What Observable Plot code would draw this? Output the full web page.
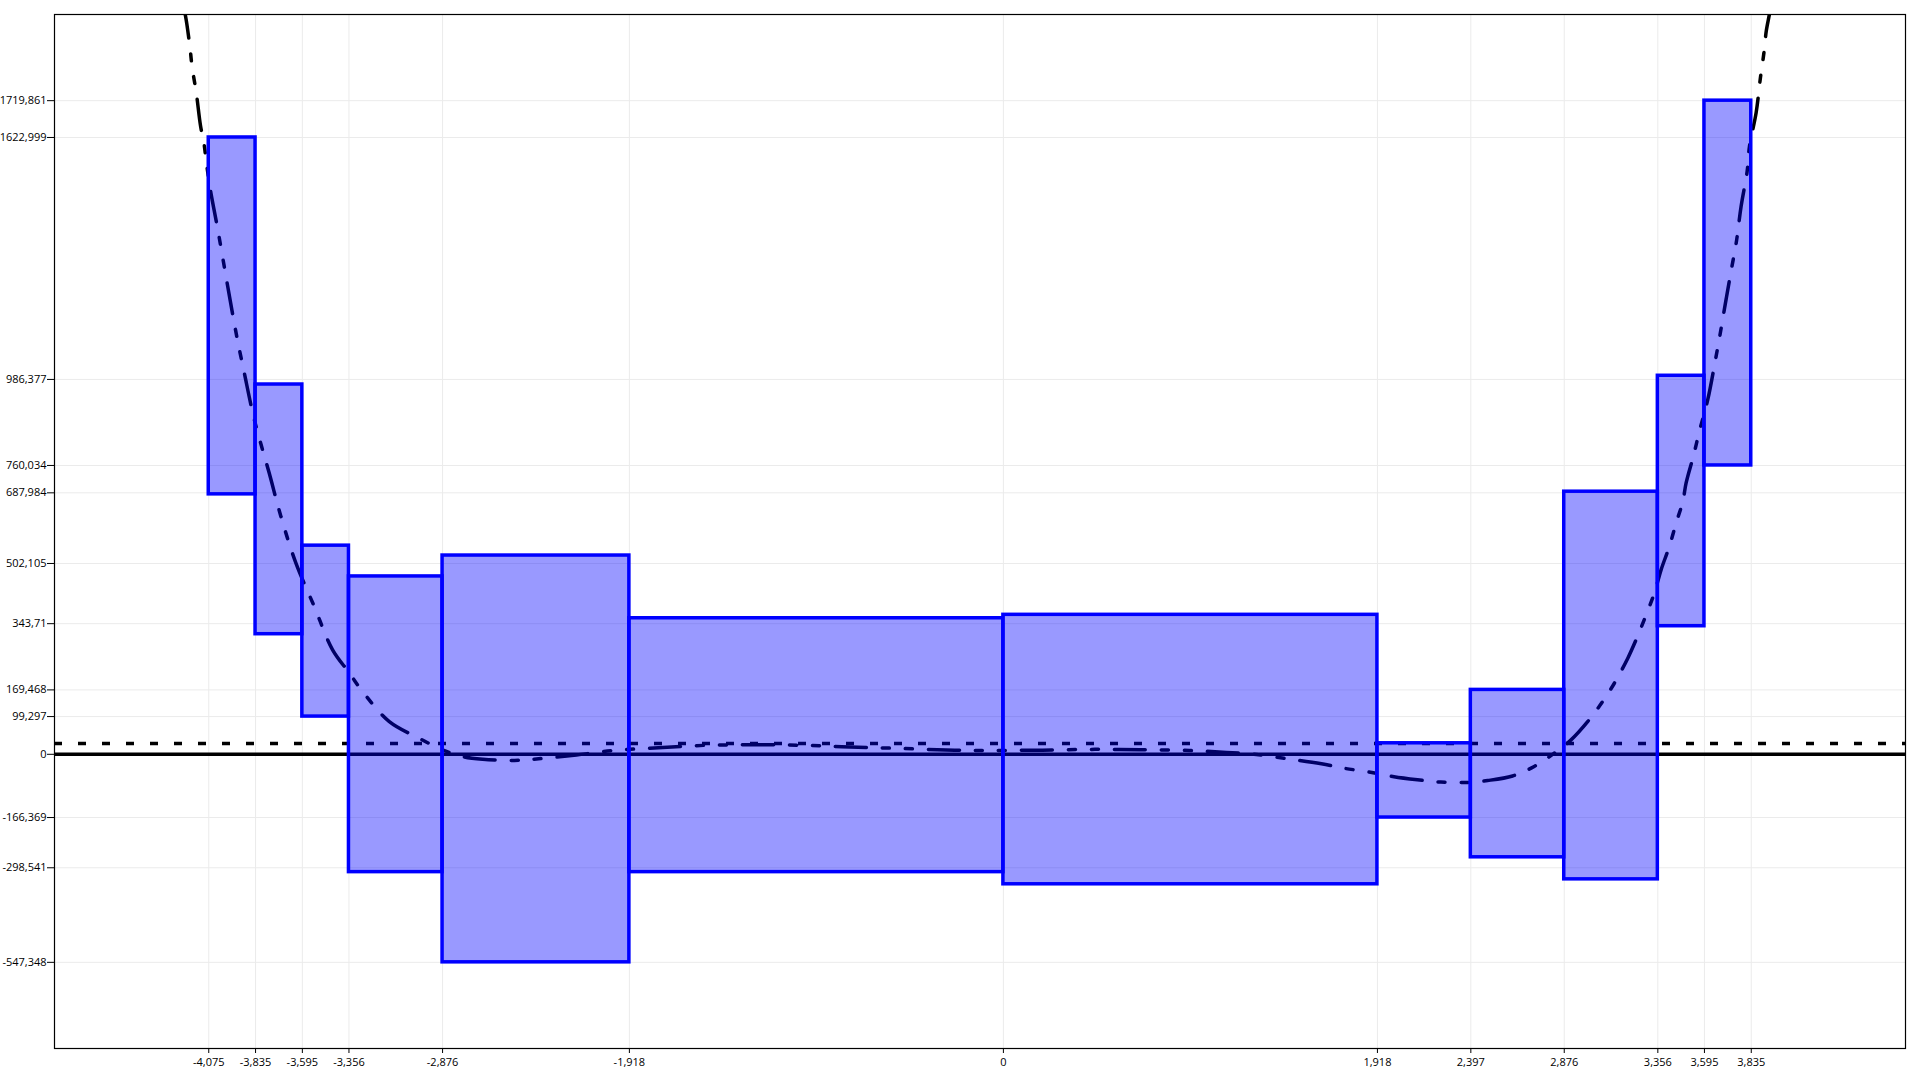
<!DOCTYPE html>
<html>
<head>
<meta charset="utf-8">
<script src="https://cdn.jsdelivr.net/npm/d3@7"></script>
<script src="https://cdn.jsdelivr.net/npm/@observablehq/plot@0.6"></script>
<style>
  html, body { margin: 0; padding: 0; background: white; }
  #chart svg { display: block; }
</style>
</head>
<body>
<div id="chart"></div>
<script>
// Bin edges (also the x tick values)
const binEdges = [-4.075, -3.835, -3.595, -3.356, -2.876, -1.918, 0, 1.918, 2.397, 2.876, 3.356, 3.595, 3.835];
// Bar tops and bottoms, one per bin
const barTop    = [1622.999, 973, 549, 468, 523, 358, 367, 29, 169.468, 691, 996, 1719.861];
const barBottom = [684, 316, 99.297, -310, -547.348, -310, -342, -166.369, -271, -329, 337, 760.034];

// Tick values
const xTicks = [-4.075, -3.835, -3.595, -3.356, -2.876, -1.918, 0, 1.918, 2.397, 2.876, 3.356, 3.595, 3.835];
const yTicks = [1719.861, 1622.999, 986.377, 760.034, 687.984, 502.105, 343.71, 169.468, 99.297, 0, -166.369, -298.541, -547.348];

// Dashed reference level
const refLevel = 28.7;

// Fitted curve
const curveX = [-4.205, -4.194, -4.172, -4.16, -4.139, -4.117, -4.1, -4.087, -4.067, -4.032, -3.936, -3.893, -3.84, -3.765, -3.705, -3.628, -3.534, -3.44, -3.354, -3.286, -3.149, -2.995, -2.883, -2.772, -2.67, -2.507, -2.413, -2.302, -2.19, -2.002, -1.814, -1.506, -1.043, -0.829, -0.564, -0.25, -0.068, 0.2, 0.47, 0.7, 0.954, 1.144, 1.267, 1.447, 1.631, 1.75, 1.858, 1.935, 2.003, 2.123, 2.243, 2.38, 2.483, 2.611, 2.722, 2.825, 2.911, 2.996, 3.073, 3.133, 3.202, 3.244, 3.296, 3.338, 3.373, 3.415, 3.45, 3.484, 3.501, 3.54, 3.569, 3.612, 3.65, 3.672, 3.706, 3.736, 3.758, 3.783, 3.814, 3.826, 3.86, 3.882, 3.9, 3.912, 3.928, 3.935];
const curveY = [1965, 1942, 1863, 1807, 1741, 1653, 1609, 1557, 1486, 1390, 1112, 1004, 878, 740, 626, 503, 389, 275, 214, 165, 86, 42, 13, -6, -13, -16, -13, -8, -2, 10, 16, 24, 24, 20, 16, 11, 10, 11, 13, 12, 10, 5, 1, -11, -25, -37, -45, -52, -59, -67, -73, -74, -69, -57, -32, 3, 38, 86, 139, 187, 253, 301, 367, 424, 486, 547, 609, 665, 714, 788, 850, 933, 1034, 1096, 1197, 1284, 1346, 1442, 1534, 1600, 1688, 1780, 1846, 1903, 1947, 1968];

const bars = barTop.map((t, i) => ({x1: binEdges[i], x2: binEdges[i + 1], y1: barBottom[i], y2: t}));
const curve = curveX.map((x, i) => ({x, y: curveY[i]}));

const xmin = d3.min(binEdges), xmax = d3.max(binEdges);
const ymin = d3.min([...barBottom, ...barTop]), ymax = d3.max([...barBottom, ...barTop]);
const xpad = (xmax - xmin) * 0.1, ypad = (ymax - ymin) * 0.1;

const fmt = d => String(d).replace(".", ",");

const chart = Plot.plot({
  width: 1920,
  height: 1080,
  marginLeft: 54,
  marginRight: 15,
  marginTop: 14,
  marginBottom: 32,
  style: {fontFamily: "'Open Sans', sans-serif", fontSize: "11px", background: "white", color: "black"},
  x: {domain: [xmin - xpad, xmax + xpad]},
  y: {domain: [ymin - ypad, ymax + ypad]},
  marks: [
    Plot.gridX({ticks: xTicks, stroke: "#ebebeb", strokeOpacity: 1, strokeWidth: 1}),
    Plot.gridY({ticks: yTicks, stroke: "#ebebeb", strokeOpacity: 1, strokeWidth: 1}),
    Plot.ruleY([0], {stroke: "black", strokeWidth: 3.5}),
    Plot.ruleY([refLevel], {stroke: "black", strokeWidth: 3.5, strokeDasharray: "8,16"}),
    Plot.line(curve, {x: "x", y: "y", stroke: "black", strokeWidth: 3.5, strokeDasharray: "31,16,7,16,7,16", curve: "catmull-rom", clip: true}),
    Plot.rect(bars, {x1: "x1", x2: "x2", y1: "y1", y2: "y2", fill: "blue", fillOpacity: 0.4, stroke: "blue", strokeWidth: 3.5}),
    Plot.axisX({ticks: xTicks, tickFormat: fmt, tickSize: 5, tickPadding: 5, label: null, fontSize: 11}),
    Plot.axisY({ticks: yTicks, tickFormat: fmt, tickSize: 7, tickPadding: 1, label: null, fontSize: 11}),
    Plot.frame({stroke: "black", strokeWidth: 1.2})
  ]
});
document.getElementById("chart").appendChild(chart);
</script>
</body>
</html>
